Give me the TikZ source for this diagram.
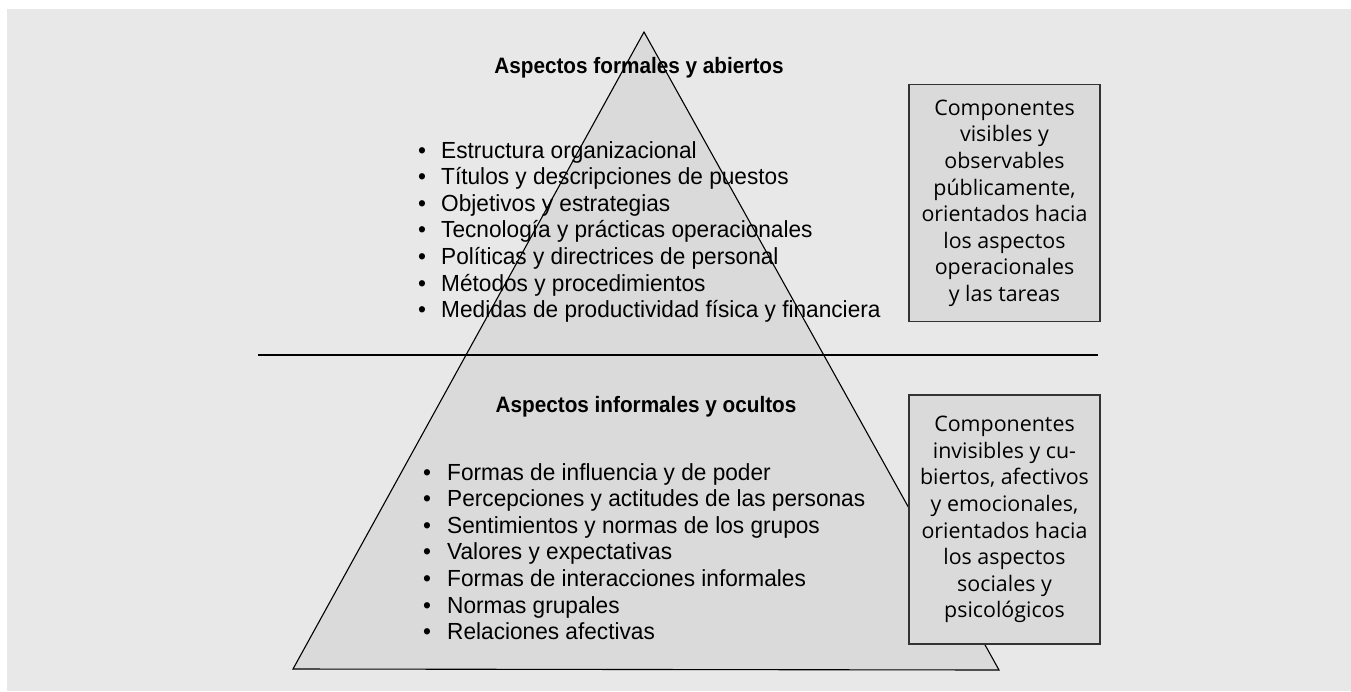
\documentclass[tikz,border=0pt]{standalone}
\usepackage{fontspec}
\setmainfont{Liberation Sans}[FakeStretch=0.972]
\newfontfamily\headfont{Liberation Sans}[FakeStretch=0.93]
\newfontfamily\boxfont{Open Sans}
\usepackage{xcolor}
\definecolor{bg}{HTML}{E8E8E8}
\definecolor{pyr}{HTML}{DADADA}
\definecolor{edge}{HTML}{333333}
\usepackage{tikz}
\usetikzlibrary{positioning}

\begin{document}
\begin{tikzpicture}[x=1pt,y=-1pt,
  itm/.style={anchor=base west,inner sep=0pt,font=\fontsize{23.3}{26}\selectfont},
  hd/.style={anchor=base,inner sep=0pt,font=\headfont\bfseries\fontsize{22.3}{26}\selectfont},
  cmp/.style={draw=edge,line width=1.4pt,fill=pyr,minimum width=191pt,inner sep=0pt,align=center,font=\boxfont\fontsize{21.4}{26.6}\selectfont}]
  \useasboundingbox (0,0) rectangle (1351,691);
  \fill[white] (0,0) rectangle (1351,691);
  \fill[bg] (7,9) rectangle (1351,691);
  \filldraw[fill=pyr,draw=black,line width=1.1pt,line join=miter] (644,32) -- (999,670) -- (293,669) -- cycle;
  \draw[line width=1.3pt] (258,355) -- (1098,355);
  \node[hd] (hup) at (639,73) {Aspectos formales y abiertos};
  \node[hd] (hlo) at (646,412) {Aspectos informales y ocultos};
  \foreach \t [count=\i] in {Estructura organizacional,Títulos y descripciones de puestos,Objetivos y estrategias,Tecnología y prácticas operacionales,Políticas y directrices de personal,Métodos y procedimientos,Medidas de productividad física y financiera} {
    \node[itm] (bu\i) at (418,{131.35+26.65*\i}) {\textbullet};
    \node[itm] (up\i) at (441,{131.35+26.65*\i}) {\t};
  }
  \foreach \t [count=\i] in {Formas de influencia y de poder,Percepciones y actitudes de las personas,Sentimientos y normas de los grupos,Valores y expectativas,Formas de interacciones informales,Normas grupales,Relaciones afectivas} {
    \node[itm] (bl\i) at (423,{453.35+26.65*\i}) {\textbullet};
    \node[itm] (lo\i) at (447,{453.35+26.65*\i}) {\t};
  }
  \node[cmp,anchor=north,minimum height=237pt] (vis) at (1004.5,84) {Componentes\\visibles y\\observables\\públicamente,\\orientados hacia\\los aspectos\\operacionales\\y las tareas};
  \node[cmp,below=72pt of vis,minimum height=249pt] (inv) {Componentes\\invisibles y cu-\\biertos, afectivos\\y emocionales,\\orientados hacia\\los aspectos\\sociales y\\psicológicos};
\end{tikzpicture}
\end{document}
